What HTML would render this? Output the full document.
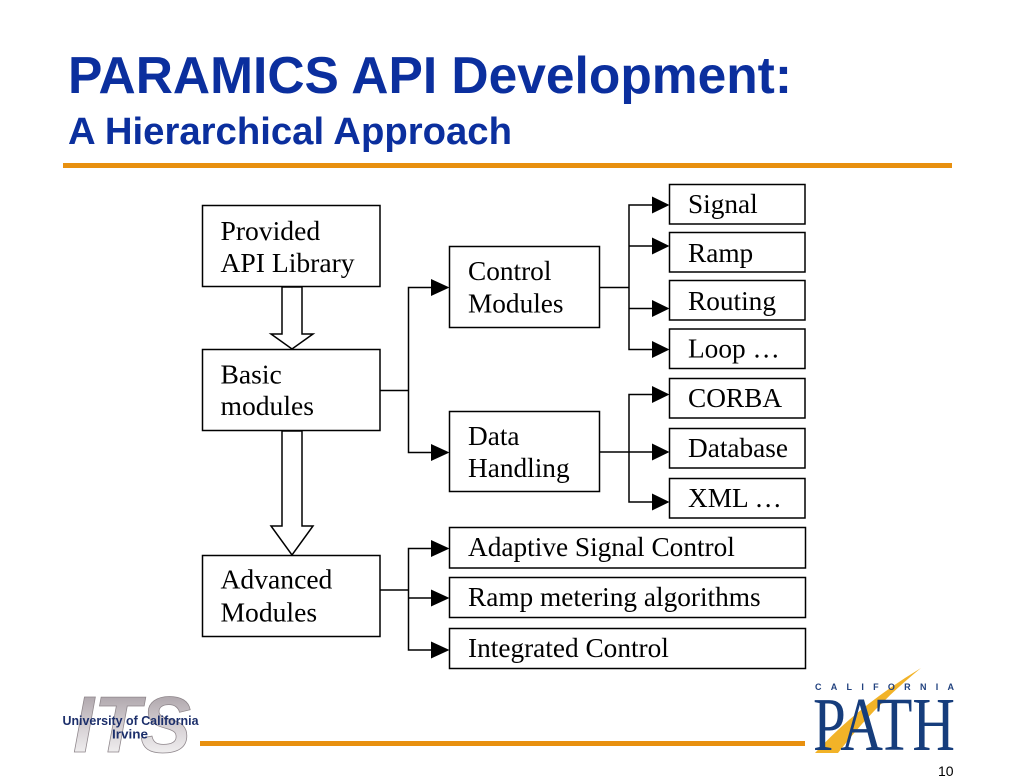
<!DOCTYPE html>
<html>
<head>
<meta charset="utf-8">
<style>
  html, body { margin:0; padding:0; background:#ffffff; }
  body { width:1024px; height:784px; overflow:hidden; }
  svg { display:block; }
  .t { font-family:"Liberation Serif", "Times New Roman", serif; font-size:27.3px; fill:#000; }
  .tl { font-family:"Liberation Serif", "Times New Roman", serif; font-size:27.6px; fill:#000; }
</style>
</head>
<body>
<svg width="1024" height="784" viewBox="0 0 1024 784" xmlns="http://www.w3.org/2000/svg">
  <defs>
    <linearGradient id="itsg" x1="0" y1="0" x2="0" y2="1">
      <stop offset="0" stop-color="#9c9299"/>
      <stop offset="0.55" stop-color="#d8d3d6"/>
      <stop offset="1" stop-color="#ffffff"/>
    </linearGradient>
  </defs>

  <!-- Title -->
  <text x="68" y="93" font-family="Liberation Sans, Arial, sans-serif" font-weight="bold" font-size="51.5" fill="#0b2f9e" textLength="724" lengthAdjust="spacingAndGlyphs">PARAMICS API Development:</text>
  <text x="68" y="144" font-family="Liberation Sans, Arial, sans-serif" font-weight="bold" font-size="38.2" fill="#0b2f9e" textLength="444" lengthAdjust="spacingAndGlyphs">A Hierarchical Approach</text>
  <rect x="63" y="163" width="889" height="5" fill="#e8900f"/>

  <!-- Left column boxes -->
  <g fill="#fff" stroke="#000" stroke-width="1.5">
    <rect x="202.5" y="205.5" width="177.5" height="81"/>
    <rect x="202.5" y="349.5" width="177.5" height="81"/>
    <rect x="202.5" y="555.5" width="177.5" height="81"/>
    <!-- middle boxes -->
    <rect x="449.5" y="246.5" width="150" height="81"/>
    <rect x="449.5" y="411.5" width="150" height="80"/>
    <!-- right boxes -->
    <rect x="669.5" y="184.5" width="135.5" height="39.5"/>
    <rect x="669.5" y="232.5" width="135.5" height="39.5"/>
    <rect x="669.5" y="280.5" width="135.5" height="39.5"/>
    <rect x="669.5" y="329" width="135.5" height="39.5"/>
    <rect x="669.5" y="378.5" width="135.5" height="39.5"/>
    <rect x="669.5" y="428.5" width="135.5" height="39.5"/>
    <rect x="669.5" y="478.5" width="135.5" height="39.5"/>
    <!-- bottom wide boxes -->
    <rect x="449.5" y="527.5" width="356" height="40.5"/>
    <rect x="449.5" y="577.5" width="356" height="40"/>
    <rect x="449.5" y="628.5" width="356" height="40"/>
  </g>

  <!-- Hollow arrows -->
  <g fill="#fff" stroke="#000" stroke-width="1.5" stroke-linejoin="miter">
    <polygon points="282,287 302,287 302,334 313,334 292,349 271,334 282,334"/>
    <polygon points="282,431 302,431 302,526 313,526 292,555 271,526 282,526"/>
  </g>

  <!-- Connector lines -->
  <g fill="none" stroke="#000" stroke-width="1.5">
    <line x1="380" y1="390.5" x2="408.5" y2="390.5"/>
    <polyline points="433,287.5 408.5,287.5 408.5,452.5 433,452.5"/>
    <line x1="599.5" y1="287.5" x2="629" y2="287.5"/>
    <polyline points="653,205 629,205 629,349.5 653,349.5"/>
    <line x1="629" y1="246" x2="653" y2="246"/>
    <line x1="629" y1="308.5" x2="653" y2="308.5"/>
    <line x1="599.5" y1="452" x2="653" y2="452"/>
    <polyline points="653,394.5 629,394.5 629,502 653,502"/>
    <line x1="380" y1="590" x2="408.5" y2="590"/>
    <polyline points="433,548.5 408.5,548.5 408.5,650 433,650"/>
    <line x1="408.5" y1="598" x2="433" y2="598"/>
  </g>

  <!-- Arrowheads -->
  <g fill="#000">
    <polygon points="431,279 449.5,287.5 431,296"/>
    <polygon points="431,444 449.5,452.5 431,461"/>
    <polygon points="652,196.5 669.5,205 652,213.5"/>
    <polygon points="652,237.5 669.5,246 652,254.5"/>
    <polygon points="652,300 669.5,308.5 652,317"/>
    <polygon points="652,341 669.5,349.5 652,358"/>
    <polygon points="652,386 669.5,394.5 652,403"/>
    <polygon points="652,443.5 669.5,452 652,460.5"/>
    <polygon points="652,493.5 669.5,502 652,510.5"/>
    <polygon points="431,540 449.5,548.5 431,557"/>
    <polygon points="431,589.5 449.5,598 431,606.5"/>
    <polygon points="431,641.5 449.5,650 431,658.5"/>
  </g>

  <!-- Box labels -->
  <text class="tl" x="220.5" y="240">Provided</text>
  <text class="tl" x="220.5" y="272">API Library</text>
  <text class="tl" x="220.5" y="383.5">Basic</text>
  <text class="tl" x="220.5" y="415">modules</text>
  <text class="tl" x="220.5" y="588.5">Advanced</text>
  <text class="tl" x="220.5" y="621.5">Modules</text>

  <text class="t" x="468" y="280">Control</text>
  <text class="t" x="468" y="312.5">Modules</text>
  <text class="t" x="468" y="445">Data</text>
  <text class="t" x="468" y="477">Handling</text>

  <text class="t" x="688" y="213">Signal</text>
  <text class="t" x="688" y="262">Ramp</text>
  <text class="t" x="688" y="310">Routing</text>
  <text class="t" x="688" y="357.5">Loop …</text>
  <text class="t" x="688" y="407">CORBA</text>
  <text class="t" x="688" y="457">Database</text>
  <text class="t" x="688" y="507">XML …</text>

  <text class="t" x="468" y="556">Adaptive Signal Control</text>
  <text class="t" x="468" y="606">Ramp metering algorithms</text>
  <text class="t" x="468" y="657">Integrated Control</text>

  <!-- Bottom orange line -->
  <rect x="200" y="741" width="605" height="5" fill="#e8900f"/>

  <!-- ITS logo -->
  <text x="73" y="752" font-family="Liberation Sans, Arial, sans-serif" font-weight="bold" font-style="italic" font-size="80" fill="url(#itsg)" stroke="#8f878c" stroke-width="0.8" textLength="118" lengthAdjust="spacingAndGlyphs">ITS</text>
  <text x="62.5" y="725" font-family="Liberation Sans, Arial, sans-serif" font-weight="bold" font-size="12.5" fill="#1c2f6b" textLength="136" lengthAdjust="spacingAndGlyphs">University of California</text>
  <text x="112" y="738.5" font-family="Liberation Sans, Arial, sans-serif" font-weight="bold" font-size="12.5" fill="#1c2f6b" textLength="36" lengthAdjust="spacingAndGlyphs">Irvine</text>

  <!-- PATH logo -->
  <path d="M815,753 Q858,706 921,668 Q872,708 838,753 Z" fill="#f2b328"/>
  <text x="815" y="690" font-family="Liberation Sans, Arial, sans-serif" font-weight="bold" font-size="9" fill="#22427f" textLength="139" lengthAdjust="spacing">CALIFORNIA</text>
  <text x="813" y="750" font-family="Liberation Serif, Times New Roman, serif" font-size="76" fill="#163d7c" textLength="142" lengthAdjust="spacingAndGlyphs">PATH</text>

  <!-- Page number -->
  <text x="938" y="776" font-family="Liberation Sans, Arial, sans-serif" font-size="14" fill="#000">10</text>
</svg>
</body>
</html>
